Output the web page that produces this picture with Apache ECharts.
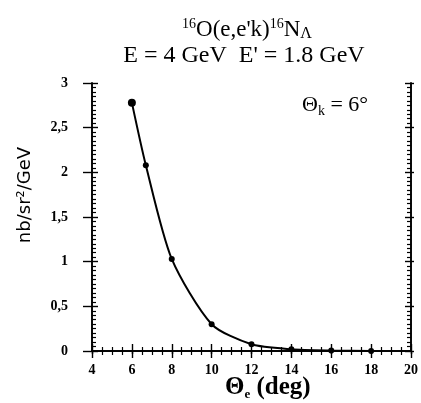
<!DOCTYPE html>
<html><head><meta charset="utf-8">
<script src="https://cdn.jsdelivr.net/npm/echarts@6/dist/echarts.min.js"></script>
<style>html,body{margin:0;padding:0;background:#fff}#c{width:421px;height:403px}</style>
</head><body><div id="c"></div>
<script>
var thetaE = [6, 6.7, 8, 10, 12, 14, 16, 18];
var sigma = [2.78, 2.08, 1.03, 0.30, 0.075, 0.02, 0.005, 0.0];
var xTicks = [4, 6, 8, 10, 12, 14, 16, 18, 20];
var yTicks = [0, 0.5, 1, 1.5, 2, 2.5, 3];

var serif = '"Liberation Serif","DejaVu Serif",serif';
var chart = echarts.init(document.getElementById('c'), null, {renderer: 'canvas'});
var pts = thetaE.map(function (x, i) { return [x, sigma[i]]; });
var lbl = {fontFamily: serif, fontWeight: 'bold', fontSize: 14, color: '#000'};
var ax = {lineStyle: {color: '#000', width: 1.6}};
function xa(pos, show, inside, len, minor) {
  return {type: 'value', position: pos, min: xTicks[0], max: xTicks[xTicks.length - 1], interval: 2,
    axisLine: ax, splitLine: {show: false},
    axisTick: {inside: inside, length: len, lineStyle: {color: '#000', width: 1.4}},
    minorTick: {show: minor, splitNumber: 4, length: 4, lineStyle: {color: '#000', width: 1.2}},
    axisLabel: show ? Object.assign({margin: 12}, lbl) : {show: false}};
}
function ya(pos, show, inside, len, minor) {
  return {type: 'value', position: pos, min: yTicks[0], max: yTicks[yTicks.length - 1], interval: 0.5,
    axisLine: ax, splitLine: {show: false},
    axisTick: {inside: inside, length: len, lineStyle: {color: '#000', width: 1.4}},
    minorTick: {show: minor, splitNumber: 10, length: 4, lineStyle: {color: '#000', width: 1.2}},
    axisLabel: show ? Object.assign({margin: 24, formatter: function (v) { return String(v).replace('.', ','); }}, lbl) : {show: false}};
}
chart.setOption({
  animation: false,
  backgroundColor: '#fff',
  grid: {left: 92, right: 9, top: 83, bottom: 52},
  xAxis: [xa('bottom', true, true, 7, true), xa('top', false, true, 7, true), xa('bottom', false, false, 3, false)],
  yAxis: [ya('left', true, true, 6, true), ya('right', false, true, 6, true), ya('left', false, false, 9, false), ya('right', false, false, 3, false)],
  series: [{
    type: 'line', data: pts, smooth: 0.25,
    symbol: 'circle', symbolSize: function (v, p) { return p.dataIndex === 0 ? 8 : 6; },
    itemStyle: {color: '#000'}, lineStyle: {color: '#000', width: 2}, z: 5
  }],
  graphic: [
    {type: 'text', x: 247, y: 17, style: {
      text: "{s|16}O(e,e'k){s|16}N{b|Λ}", font: '23px ' + serif, fill: '#000', textAlign: 'center',
      rich: {s: {fontSize: 14, verticalAlign: 'top', fontFamily: serif, padding: [0, 0, 9, 0]}, b: {fontSize: 16, fontFamily: serif, padding: [9, 0, 0, 0]}}
    }},
    {type: 'text', x: 244, y: 44, style: {text: "E = 4 GeV  E' = 1.8 GeV", font: '24px ' + serif, fill: '#000', textAlign: 'center'}},
    {type: 'text', x: 302, y: 93, style: {text: "Θ{k|k} = 6°", font: '22px ' + serif, fill: '#000',
      rich: {k: {fontSize: 14, fontFamily: serif, padding: [11, 0, 0, 0]}}}},
    {type: 'text', x: 225, y: 374, style: {text: "Θ{k|e} (deg)", font: 'bold 25px ' + serif, fill: '#000',
      rich: {k: {fontSize: 13, fontFamily: serif, fontWeight: 'bold', padding: [14, 0, 0, 0]}}}},
    {type: 'text', x: 25, y: 195, rotation: Math.PI / 2, style: {text: 'nb/sr²/GeV', font: '18px "DejaVu Sans",sans-serif', fill: '#000', textAlign: 'center', textVerticalAlign: 'middle'}}
  ]
});
</script></body></html>
